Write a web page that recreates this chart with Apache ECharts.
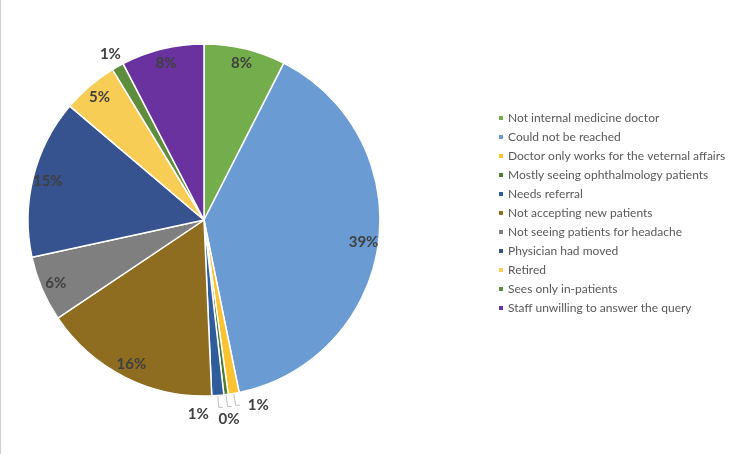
<!DOCTYPE html>
<html>
<head>
<meta charset="utf-8">
<script src="https://cdn.jsdelivr.net/npm/echarts@6/dist/echarts.min.js"></script>
<style>
  html, body { margin: 0; padding: 0; background: #fff; }
  #wrap { width: 749px; height: 454px; border-left: 1px solid #cfcfcf; }
  #chart { width: 749px; height: 454px; }
</style>
</head>
<body>
<div id="wrap"><div id="chart"></div></div>
<script>
// categories (legend order = clockwise order from 12 o'clock)
var categories = [
    "Not internal medicine doctor",
    "Could not be reached",
    "Doctor only works for the veternal affairs",
    "Mostly seeing ophthalmology patients",
    "Needs referral",
    "Not accepting new patients",
    "Not seeing patients for headache",
    "Physician had moved",
    "Retired",
    "Sees only in-patients",
    "Staff unwilling to answer the query"
];
// share of calls, percent
var shares = [7.5, 39.3, 1.0, 0.4, 1.1, 16.3, 6.0, 14.6, 5.1, 1.1, 7.6];
var colors = ["#74ad4b", "#6a9bd2", "#fbc232", "#4f7d31", "#2f5d9c",
              "#8e6d21", "#7f7f7f", "#36528f", "#f7cd56", "#5e8d3e", "#6a329f"];
// small slices get their label outside with a leader line
var outsideIdx = [2, 3, 4, 9];

var labelFont = "Lato, 'DejaVu Sans', sans-serif";

var mainData = [], ringData = [];
for (var i = 0; i < categories.length; i++) {
    var outside = outsideIdx.indexOf(i) >= 0;
    mainData.push({
        name: categories[i],
        value: shares[i],
        itemStyle: { color: colors[i] },
        label: { show: outside },
        labelLine: { show: outside && i !== 9 }
    });
    ringData.push({
        name: categories[i],
        value: shares[i],
        label: { show: !outside }
    });
}

function pctLabel(p) {
    return Math.round(p.percent) + "%";
}

var chart = echarts.init(document.getElementById("chart"));

var option = {
    animation: false,
    backgroundColor: "#fff",
    legend: {
        orient: "vertical",
        left: 491,
        top: 107,
        data: categories,
        icon: "rect",
        itemWidth: 6,
        itemHeight: 6,
        itemGap: 7,
        selectedMode: false,
        textStyle: {
            fontFamily: labelFont,
            fontSize: 12,
            lineHeight: 12,
            color: "#595959",
            padding: [0, 0, 0, -1]
        }
    },
    series: [
        {
            // the pie itself
            type: "pie",
            center: [203, 220],
            radius: 176,
            startAngle: 90,
            clockwise: true,
            avoidLabelOverlap: false,
            itemStyle: { borderColor: "#fff", borderWidth: 1.5 },
            label: {
                position: "outside",
                formatter: pctLabel,
                fontFamily: labelFont,
                fontWeight: "bold",
                fontSize: 15,
                color: "#404040"
            },
            labelLine: {
                length: 12,
                length2: 4,
                lineStyle: { color: "#bfbfbf", width: 1 }
            },
            labelLayout: function (p) {
                if (p.dataIndex === 2) return { dx: 3, dy: 0 };
                if (p.dataIndex === 3) return { dx: -18, dy: 13 };
                if (p.dataIndex === 4) return { dx: -40, dy: 7 };
                if (p.dataIndex === 9) return { dx: 18, dy: -2 };
                return {};
            },
            emphasis: { disabled: true },
            data: mainData
        },
        {
            // transparent outer ring, only used to place the inner labels near the rim
            type: "pie",
            center: [203, 220],
            radius: [140, 176],
            startAngle: 90,
            clockwise: true,
            silent: true,
            itemStyle: { color: "rgba(0,0,0,0)" },
            label: {
                position: "inside",
                formatter: pctLabel,
                fontFamily: labelFont,
                fontWeight: "bold",
                fontSize: 15,
                color: "#404040"
            },
            labelLine: { show: false },
            emphasis: { disabled: true },
            data: ringData
        }
    ]
};
chart.setOption(option);
</script>
</body>
</html>
